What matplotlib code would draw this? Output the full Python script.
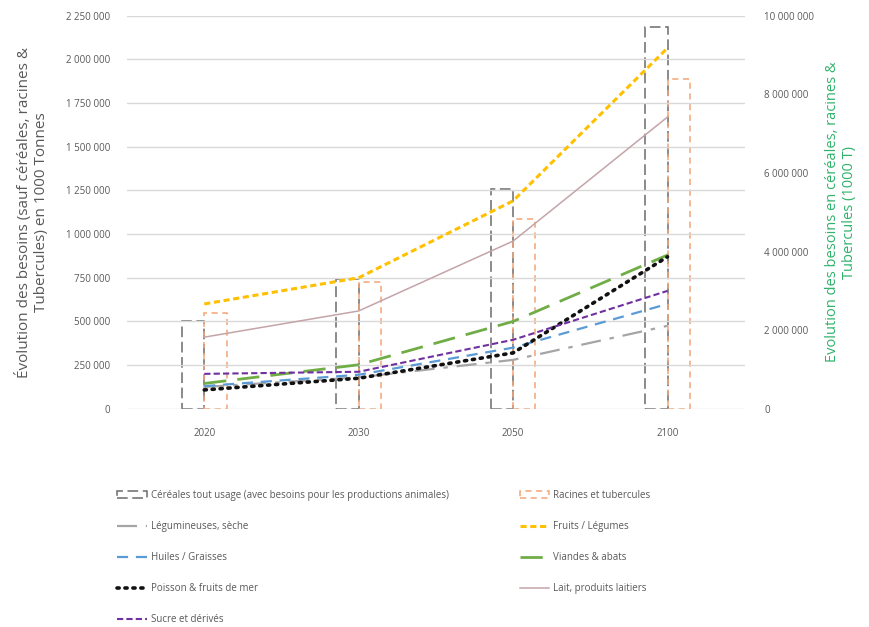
import numpy as np
import matplotlib.pyplot as plt
from matplotlib.ticker import FuncFormatter, MultipleLocator

plt.rcParams['font.family'] = ['Open Sans', 'DejaVu Sans']

years = ['2020', '2030', '2050', '2100']

# secondary axis (bars), 1000 T
cereales = [2240000, 3310000, 5600000, 9720000]
racines = [2440000, 3230000, 4830000, 8400000]

# primary axis (lines), 1000 T
legumineuses = [125000, 180000, 280000, 475000]
fruits_legumes = [600000, 750000, 1190000, 2065000]
huiles = [130000, 195000, 350000, 600000]
viandes = [145000, 252000, 500000, 880000]
poisson = [108000, 175000, 320000, 870000]
lait = [410000, 560000, 960000, 1670000]
sucre = [200000, 212000, 395000, 675000]

x = np.arange(len(years))
grey_txt = '#595959'

def fmt(v, pos):
    return f"{int(round(v)):,}".replace(",", " ")

fig = plt.figure(figsize=(8.7, 6.27), dpi=100)
ax = fig.add_axes([0.146, 0.348, 0.71, 0.627])
ax2 = ax.twinx()

bw = 0.145
b1 = ax2.bar(x - bw / 2, cereales, width=bw, fill=False, edgecolor='#6b6b6b',
             linewidth=1.1, linestyle=(0, (7, 3)),
             label='Céréales tout usage (avec besoins pour les productions animales)')
b2 = ax2.bar(x + bw / 2, racines, width=bw, fill=False, edgecolor='#f2a477',
             linewidth=1.1, linestyle=(0, (4, 3)), label='Racines et tubercules')

l_leg, = ax.plot(x, legumineuses, color='#a5a5a5', lw=1.6, ls=(0, (9, 4, 2, 4)),
                 label='Légumineuses, sèche')
l_fru, = ax.plot(x, fruits_legumes, color='#ffc000', lw=2.2, ls=(0, (2, 1.2)),
                 label='Fruits / Légumes')
l_hui, = ax.plot(x, huiles, color='#5b9bd5', lw=1.6, ls=(0, (5, 3.5)),
                 label='Huiles / Graisses')
l_via, = ax.plot(x, viandes, color='#70ad47', lw=2.0, ls=(0, (8, 4)),
                 label='Viandes & abats')
l_poi, = ax.plot(x, poisson, color='#111111', lw=2.6, ls=(0, (0.6, 1.6)),
                 dash_capstyle='round', label='Poisson & fruits de mer')
l_lai, = ax.plot(x, lait, color='#c4a4a8', lw=1.1, ls='-',
                 label='Lait, produits laitiers')
l_suc, = ax.plot(x, sucre, color='#7030a0', lw=1.5, ls=(0, (3, 1.5)),
                 label='Sucre et dérivés')

# lines above the bars
ax.set_zorder(ax2.get_zorder() + 1)
ax.patch.set_visible(False)

ax.set_xlim(-0.5, 3.5)
ax.set_ylim(0, 2250000)
ax2.set_ylim(0, 10000000)
ax.yaxis.set_major_locator(MultipleLocator(250000))
ax2.yaxis.set_major_locator(MultipleLocator(2000000))
ax.yaxis.set_major_formatter(FuncFormatter(fmt))
ax2.yaxis.set_major_formatter(FuncFormatter(fmt))
ax.set_xticks(x)
ax.set_xticklabels(years)

ax.grid(axis='y', color='#d9d9d9', lw=1)
ax.set_axisbelow(True)
for a in (ax, ax2):
    for s in a.spines.values():
        s.set_visible(False)
    a.tick_params(length=0, colors=grey_txt, labelsize=7)
ax.tick_params(axis='y', pad=12)
ax2.tick_params(axis='y', pad=14)
ax.tick_params(axis='x', pad=14)

ax.set_ylabel('Évolution des besoins (sauf céréales, racines &\nTubercules) en 1000 Tonnes',
              fontsize=11, color=grey_txt, labelpad=12)
ax2.set_ylabel('Evolution des besoins en céréales, racines &\nTubercules (1000 T)',
               fontsize=10.5, color='#2fb36b', labelpad=8)

handles = [b1, l_leg, l_hui, l_poi, l_suc, b2, l_fru, l_via, l_lai]
fig.legend(handles=handles, loc='upper left', bbox_to_anchor=(0.125, 0.232),
           ncol=2, frameon=False, fontsize=7, labelcolor=grey_txt,
           handlelength=3.0, handletextpad=0.4, labelspacing=2.05,
           columnspacing=7.3)

fig.savefig('out.png', dpi=100)
